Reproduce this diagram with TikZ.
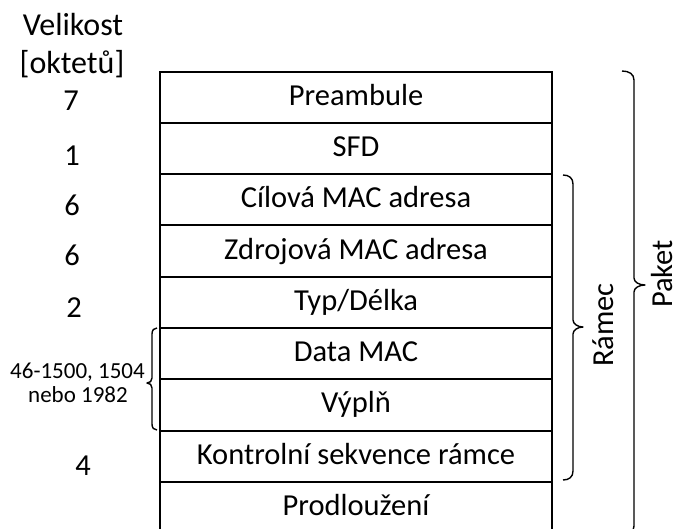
\documentclass[tikz,border=0pt]{standalone}
\usepackage{fontspec}
\setmainfont{Carlito}
\begin{document}
\begin{tikzpicture}[x=1pt,y=-1pt,
  row/.style={draw, line width=2pt, minimum width=392pt, minimum height=51.3pt, inner sep=0pt,
    text height=22pt, text depth=6pt, font=\fontsize{30.5}{36}\selectfont, anchor=center},
  num/.style={anchor=base, inner sep=0pt, font=\fontsize{30.5}{36}\selectfont},
  small/.style={anchor=base, inner sep=0pt, font=\fontsize{23}{27}\selectfont},
  brc/.style={line width=1.4pt, line join=round}]
\clip (0,0) rectangle (677,528);
% table rows
\node[row] (r1) at (356,97.15) {Preambule};
\node[row] (r2) at (356,148.45) {SFD};
\node[row] (r3) at (356,199.75) {Cílová MAC adresa};
\node[row] (r4) at (356,251.05) {Zdrojová MAC adresa};
\node[row] (r5) at (356,302.35) {Typ/Délka};
\node[row] (r6) at (356,353.65) {Data MAC};
\node[row] (r7) at (356,404.95) {Výplň};
\node[row] (r8) at (356,456.25) {Kontrolní sekvence rámce};
\node[row] (r9) at (356,507.55) {Prodloužení};
% size column
\node[num, font=\fontsize{32}{38}\selectfont] (hd1) at (73,35) {Velikost};
\node[num, font=\fontsize{32}{38}\selectfont] (hd2) at (72,73) {[oktetů]};
\node[num] (n1) at (71,110) {7};
\node[num] (n2) at (72,165) {1};
\node[num] (n3) at (72,215) {6};
\node[num] (n4) at (72,265) {6};
\node[num] (n5) at (74,317) {2};
\node[small] (n6a) at (77.5,378) {46-1500, 1504};
\node[small] (n6b) at (78,402) {nebo 1982};
\node[num] (n8) at (83,475) {4};
% braces
\draw[brc] (157,328) .. controls (154,328) and (152,330) .. (152,334) -- (152,378)
  .. controls (152,381) and (150,383) .. (147,383)
  .. controls (150,383) and (152,385) .. (152,388) -- (152,424)
  .. controls (152,428) and (154,430) .. (157,430);
\draw[brc] (563,175) .. controls (569,175) and (573,178) .. (573,184) -- (573,320)
  .. controls (573,324) and (578,327) .. (583,327)
  .. controls (578,327) and (573,330) .. (573,334) -- (573,471)
  .. controls (573,477) and (569,480) .. (563,480);
\draw[brc] (622,71) .. controls (629,71) and (634,74) .. (634,80) -- (634,278)
  .. controls (634,282) and (639,285) .. (645,285)
  .. controls (639,285) and (634,288) .. (634,292) -- (634,526)
  .. controls (634,532) and (629,535) .. (622,535);
\node[num, rotate=90] (ramec) at (613,325) {Rámec};
\node[num, rotate=90] (paket) at (672,274) {Paket};
\end{tikzpicture}
\end{document}
